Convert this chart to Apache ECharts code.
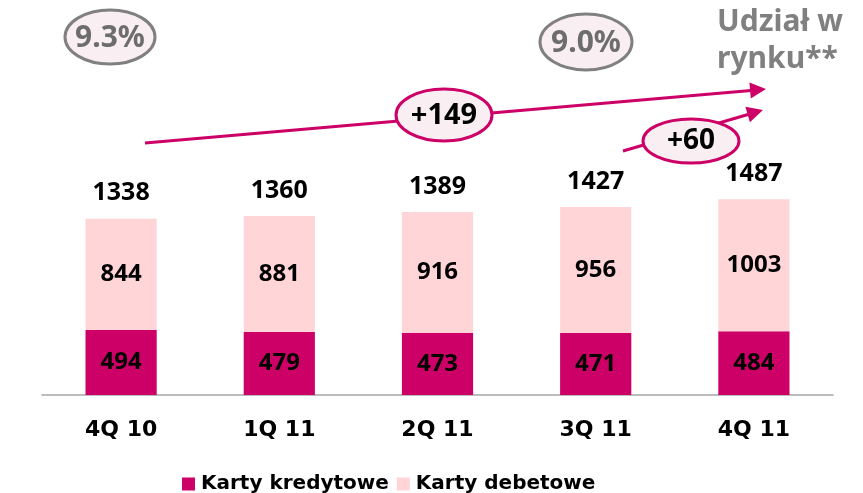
<!DOCTYPE html>
<html><head><meta charset="utf-8">
<script src="https://cdn.jsdelivr.net/npm/echarts@6/dist/echarts.min.js"></script>
<style>html,body{margin:0;padding:0;background:#fff}#c{width:863px;height:493px}</style>
</head><body><div id="c"></div>
<script>
const categories = ['4Q 10', '1Q 11', '2Q 11', '3Q 11', '4Q 11'];
const credit = [494, 479, 473, 471, 484];
const debit = [844, 881, 916, 956, 1003];
const totals = [1338, 1360, 1389, 1427, 1487];
const seriesNames = ['Karty kredytowe', 'Karty debetowe'];

const FONT = '"DejaVu Sans", sans-serif';
const NUMFONT = '"Noto Sans", sans-serif';
const MAG = '#cc0066';
const PINK = '#ffd5d8';
const BUBBLE = '#f9eef2';

const chart = echarts.init(document.getElementById('c'));
chart.setOption({
  animation: false,
  grid: { left: 42, right: 30, top: 0, bottom: 98 },
  legend: {
    data: seriesNames,
    left: 177, top: 469,
    itemWidth: 13, itemHeight: 13, itemGap: 8,
    icon: 'rect',
    textStyle: { fontFamily: FONT, fontWeight: 'bold', fontSize: 20, color: '#000', padding: [0, 0, 0, 1] }
  },
  xAxis: {
    type: 'category', data: categories,
    axisLine: { lineStyle: { color: '#a6a6a6', width: 1.5 } },
    axisTick: { show: false },
    axisLabel: { fontFamily: FONT, fontWeight: 'bold', fontSize: 22, color: '#000', margin: 24 }
  },
  yAxis: { type: 'value', min: 0, max: 3000, show: false, splitLine: { show: false } },
  series: [
    {
      name: seriesNames[0], type: 'bar', stack: 's', barWidth: '45%', data: credit,
      itemStyle: { color: MAG },
      label: { show: true, position: 'inside', fontFamily: NUMFONT, fontWeight: 'bold', fontSize: 24, color: '#000' }
    },
    {
      name: seriesNames[1], type: 'bar', stack: 's', data: debit,
      itemStyle: { color: PINK },
      label: { show: true, position: 'inside', fontFamily: NUMFONT, fontWeight: 'bold', fontSize: 24, color: '#000' }
    },
    {
      name: 'total', type: 'bar', stack: 's', data: totals.map(() => 0),
      itemStyle: { color: 'transparent' },
      label: {
        show: true, position: 'top', distance: 13,
        formatter: p => String(totals[p.dataIndex]),
        fontFamily: NUMFONT, fontWeight: 'bold', fontSize: 25, color: '#000'
      }
    }
  ],
  graphic: [
    // long arrow
    { type: 'line', z: 10, shape: { x1: 145, y1: 143, x2: 751, y2: 90.4 }, style: { stroke: MAG, lineWidth: 3 } },
    { type: 'polygon', z: 10, shape: { points: [[766, 89], [750.8, 98.4], [749.4, 82.4]] }, style: { fill: MAG } },
    // short arrow
    { type: 'line', z: 10, shape: { x1: 623, y1: 151, x2: 748, y2: 114.5 }, style: { stroke: MAG, lineWidth: 3 } },
    { type: 'polygon', z: 10, shape: { points: [[763, 110], [749.9, 122.2], [745.4, 106.8]] }, style: { fill: MAG } },
    // +149 bubble
    { type: 'ellipse', z: 11, shape: { cx: 444, cy: 115, rx: 48, ry: 26 }, style: { fill: BUBBLE, stroke: MAG, lineWidth: 3 } },
    { type: 'text', z: 12, x: 444, y: 116, style: { text: '+149', fontFamily: NUMFONT, fontWeight: 'bold', fontSize: 29, fill: '#000', textAlign: 'center', textVerticalAlign: 'middle' } },
    // +60 bubble
    { type: 'ellipse', z: 11, shape: { cx: 691, cy: 141, rx: 48, ry: 22 }, style: { fill: BUBBLE, stroke: MAG, lineWidth: 3 } },
    { type: 'text', z: 12, x: 691, y: 141, style: { text: '+60', fontFamily: NUMFONT, fontWeight: 'bold', fontSize: 28, fill: '#000', textAlign: 'center', textVerticalAlign: 'middle' } },
    // market share bubbles
    { type: 'ellipse', z: 11, shape: { cx: 110, cy: 37, rx: 45, ry: 27 }, style: { fill: BUBBLE, stroke: '#808080', lineWidth: 3 } },
    { type: 'text', z: 12, x: 110, y: 38, style: { text: '9.3%', fontFamily: NUMFONT, fontWeight: 'bold', fontSize: 30, fill: '#6d6d6d', textAlign: 'center', textVerticalAlign: 'middle' } },
    { type: 'ellipse', z: 11, shape: { cx: 586, cy: 42, rx: 46, ry: 28 }, style: { fill: BUBBLE, stroke: '#808080', lineWidth: 3 } },
    { type: 'text', z: 12, x: 586, y: 43, style: { text: '9.0%', fontFamily: NUMFONT, fontWeight: 'bold', fontSize: 30, fill: '#6d6d6d', textAlign: 'center', textVerticalAlign: 'middle' } },
    { type: 'text', z: 12, x: 717, y: 4, style: { text: 'Udział w\nrynku**', fontFamily: NUMFONT, fontWeight: 'bold', fontSize: 30, lineHeight: 37, fill: '#808080', textAlign: 'left', textVerticalAlign: 'top' } }
  ]
});
</script></body></html>
